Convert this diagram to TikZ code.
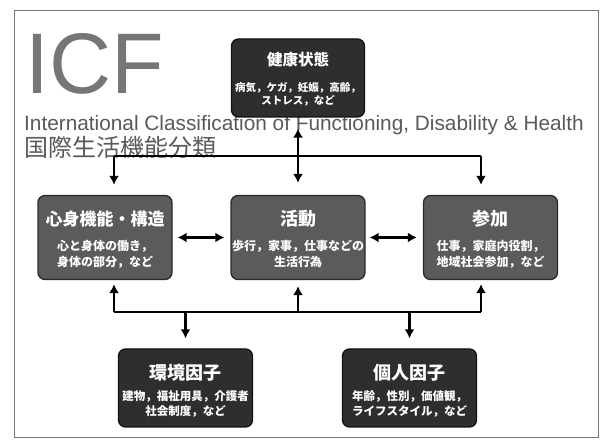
\documentclass[tikz,border=0pt]{standalone}
\usepackage{fontspec}
\setmainfont{Liberation Sans}
\newfontfamily\jp{Noto Sans CJK JP}
\usetikzlibrary{arrows.meta}
\definecolor{darkfill}{HTML}{2E2E2E}
\definecolor{darkline}{HTML}{111111}
\definecolor{midfill}{HTML}{5B5B5B}
\definecolor{midline}{HTML}{2A2A2A}
\definecolor{titlegray}{HTML}{767676}
\definecolor{subgray}{HTML}{5A5A5A}
\definecolor{framegray}{HTML}{7A7A7A}
\tikzset{
  boxbase/.style={rounded corners=7pt, line width=1.3pt, inner sep=0pt},
  darkbox/.style={boxbase, fill=darkfill, draw=darkline, minimum width=134pt, minimum height=78pt},
  midbox/.style={boxbase, fill=midfill, draw=midline, minimum width=134pt, minimum height=84pt},
  ttl/.style={text=white, inner sep=0pt, font=\jp\bfseries\fontsize{#1}{#1}\selectfont},
  sub/.style={text=white, inner sep=0pt, align=center},
  conn/.style={line width=2.4pt, draw=black},
  tip/.style={-{Latex[length=9pt,width=10pt]}},
  dtip/.style={{Latex[length=9pt,width=10pt]}-{Latex[length=9pt,width=10pt]}},
}
\begin{document}
\begin{tikzpicture}[x=1pt,y=-1pt]
\useasboundingbox (0,0) rectangle (600,443);
\fill[white] (0,0) rectangle (600,443);
\draw[framegray, line width=1pt] (14,11) rectangle (598,438);

% titles
\node[anchor=base west, inner sep=0pt, text=titlegray, font=\fontsize{86}{86}\selectfont] (icf) at (25,94) {ICF};
\node[anchor=base west, inner sep=0pt, text=subgray, font=\fontsize{20.8}{20.8}\selectfont] (eng) at (24,131) {International Classification of Functioning, Disability \& Health};
\node[anchor=base west, inner sep=0pt, text=subgray, font=\jp\fontsize{24}{24}\selectfont] (jpn) at (24,157) {国際生活機能分類};

% boxes
\node[darkbox, minimum height=78pt, minimum width=133pt] (health) at (298,78) {};
\node[midbox] (body) at (105,237.5) {};
\node[midbox] (act) at (298,237.5) {};
\node[midbox] (part) at (490.5,237.5) {};
\node[darkbox] (env) at (185.5,388) {};
\node[darkbox] (pers) at (409.5,388) {};

% box texts
\node[ttl=15.5] (health-t) at (298,60) {健康状態};
\node[sub, font=\jp\bfseries\fontsize{10.5}{13}\selectfont] (health-s) at (298,94) {病気，ケガ，妊娠，高齢，\\ストレス，など};

\node[ttl=17] (body-t) at (105,219) {心身機能・構造};
\node[sub, font=\jp\bfseries\fontsize{12}{16}\selectfont] (body-s) at (105,254) {心と身体の働き，\\身体の部分，など};

\node[ttl=18] (act-t) at (298,219) {活動};
\node[sub, font=\jp\bfseries\fontsize{12}{16}\selectfont] (act-s) at (298,254) {歩行，家事，仕事などの\\生活行為};

\node[ttl=18] (part-t) at (490.5,219) {参加};
\node[sub, font=\jp\bfseries\fontsize{12}{16}\selectfont] (part-s) at (490.5,254) {仕事，家庭内役割，\\地域社会参加，など};

\node[ttl=18] (env-t) at (185.5,373) {環境因子};
\node[sub, font=\jp\bfseries\fontsize{11.5}{15}\selectfont] (env-s) at (185.5,404) {建物，福祉用具，介護者\\社会制度，など};

\node[ttl=18] (pers-t) at (409.5,373) {個人因子};
\node[sub, font=\jp\bfseries\fontsize{11.5}{15}\selectfont] (pers-s) at (409.5,404) {年齢，性別，価値観，\\ライフスタイル，など};

% junction points
\coordinate (tl) at (114,156);
\coordinate (tr) at (481,156);
\coordinate (bl) at (114,312);
\coordinate (br) at (481,312);

% top connectors
\draw[conn, dtip, shorten <=11pt, shorten >=12pt] (health.south) -- (act.north);
\draw[conn] (tl) -- (tr);
\draw[conn, tip, shorten >=10pt] (tl) -- (tl |- body.north);
\draw[conn, tip, shorten >=10pt] (tr) -- (tr |- part.north);

% side connectors
\draw[conn, dtip, shorten <=5pt, shorten >=6pt] (body.east) -- (act.west);
\draw[conn, dtip, shorten <=4pt, shorten >=6pt] (act.east) -- (part.west);

% bottom connectors
\draw[conn] (bl) -- (br);
\draw[conn, tip, shorten >=4pt] (bl) -- (bl |- body.south);
\draw[conn, tip, shorten >=6pt] (act.south |- bl) -- (act.south);
\draw[conn, tip, shorten >=4pt] (br) -- (br |- part.south);
\draw[conn, tip, shorten >=10pt] (env.north |- bl) -- (env.north);
\draw[conn, tip, shorten >=10pt] (pers.north |- bl) -- (pers.north);
\end{tikzpicture}
\end{document}
